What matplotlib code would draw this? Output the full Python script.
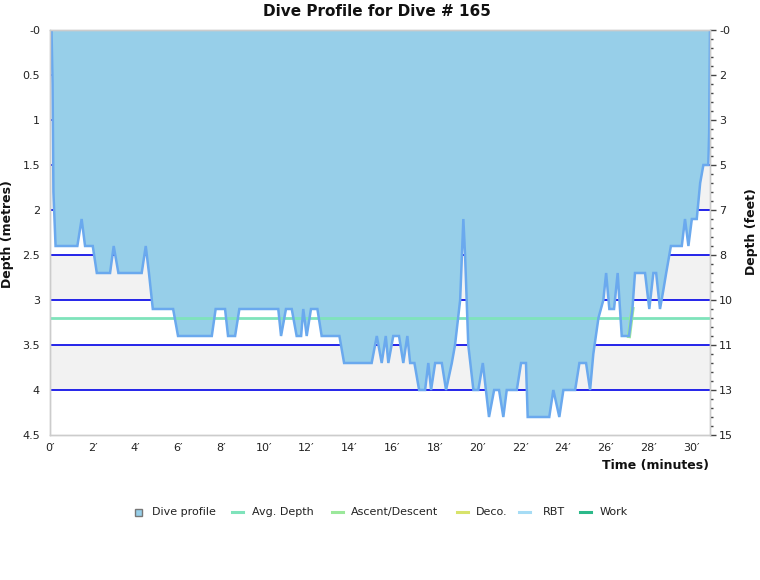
import matplotlib
matplotlib.use('Agg')
import matplotlib.pyplot as plt
from matplotlib.lines import Line2D
from matplotlib.patches import Rectangle
from matplotlib.ticker import MultipleLocator

title = "Dive Profile for Dive # 165"

time_min = [0.00, 0.07, 0.12, 0.16, 0.26, 1.28, 1.48, 1.64, 2.00, 2.19,
            2.81, 2.98, 3.20, 4.29, 4.48, 4.63, 4.81, 5.76, 5.99, 7.57,
            7.75, 8.19, 8.33, 8.66, 8.86, 10.68, 10.81, 11.04, 11.31, 11.54,
            11.75, 11.85, 12.01, 12.21, 12.51, 12.71, 13.54, 13.76, 15.05, 15.29,
            15.52, 15.71, 15.83, 16.06, 16.33, 16.53, 16.72, 16.85, 17.05, 17.27,
            17.55, 17.70, 17.83, 18.02, 18.33, 18.53, 18.80, 18.95, 19.19, 19.34,
            19.42, 19.57, 19.81, 20.04, 20.25, 20.54, 20.78, 21.01, 21.21, 21.37,
            21.84, 22.04, 22.27, 22.35, 23.36, 23.55, 23.83, 24.02, 24.57, 24.77,
            25.08, 25.27, 25.42, 25.66, 25.89, 26.02, 26.17, 26.39, 26.56, 26.75,
            27.09, 27.25, 27.37, 27.84, 28.04, 28.23, 28.36, 28.54, 28.69, 28.83,
            29.05, 29.56, 29.71, 29.87, 30.03, 30.26, 30.42, 30.57, 30.80, 30.84,
            30.88]
depth_m = [0.0, 0.0, 0.6, 1.8, 2.4, 2.4, 2.1, 2.4, 2.4, 2.7,
           2.7, 2.4, 2.7, 2.7, 2.4, 2.7, 3.1, 3.1, 3.4, 3.4,
           3.1, 3.1, 3.4, 3.4, 3.1, 3.1, 3.4, 3.1, 3.1, 3.4,
           3.4, 3.1, 3.4, 3.1, 3.1, 3.4, 3.4, 3.7, 3.7, 3.4,
           3.7, 3.4, 3.7, 3.4, 3.4, 3.7, 3.4, 3.7, 3.7, 4.0,
           4.0, 3.7, 4.0, 3.7, 3.7, 4.0, 3.7, 3.5, 3.0, 2.1,
           2.5, 3.5, 4.0, 4.0, 3.7, 4.3, 4.0, 4.0, 4.3, 4.0,
           4.0, 3.7, 3.7, 4.3, 4.3, 4.0, 4.3, 4.0, 4.0, 3.7,
           3.7, 4.0, 3.6, 3.2, 3.0, 2.7, 3.1, 3.1, 2.7, 3.4,
           3.4, 3.1, 2.7, 2.7, 3.1, 2.7, 2.7, 3.1, 2.9, 2.7,
           2.4, 2.4, 2.1, 2.4, 2.1, 2.1, 1.7, 1.5, 1.5, 1.15,
           0.0]

avg_depth_m = 3.2
ascent_time = [27.09, 27.25]
ascent_depth = [3.4, 3.1]

depth_ticks = [0, 0.5, 1, 1.5, 2, 2.5, 3, 3.5, 4, 4.5]
depth_tick_labels = ['-0', '0.5', '1', '1.5', '2', '2.5', '3', '3.5', '4', '4.5']
feet_tick_labels = ['-0', '2', '3', '5', '7', '8', '10', '11', '13', '15']
time_ticks = list(range(0, 31, 2))
time_tick_labels = [f"{t}\u2032" for t in time_ticks]

legend_labels = ["Dive profile", "Avg. Depth", "Ascent/Descent", "Deco.", "RBT", "Work"]
legend_colors = ["#97cfe9", "#7fe3bb", "#9be89b", "#d8e36b", "#a6dcf5", "#2cb98a"]

plt.rcParams['font.family'] = ['DejaVu Sans']
W, H = 760, 580
fig = plt.figure(figsize=(W / 100, H / 100), dpi=100)
ax = fig.add_axes([50 / W, 145 / H, 660 / W, 405 / H])
ax.set_xlim(0, time_min[-1])
ax.set_ylim(depth_ticks[-1], depth_ticks[0])

# alternating background bands
for i in range(len(depth_ticks) - 1):
    if i % 2 == 1:
        ax.axhspan(depth_ticks[i], depth_ticks[i + 1], color='#f2f2f2', lw=0, zorder=0)
for d in depth_ticks[1:-1]:
    ax.axhline(d, color='#0000e6', lw=1.2, zorder=1)

ax.fill_between(time_min, 0, depth_m, color='#97cfe9', lw=0, zorder=2)
ax.axhline(avg_depth_m, color='#7fe3bb', lw=2, zorder=3)
ax.plot(ascent_time, ascent_depth, color='#9be89b', lw=3, zorder=3.5)
ax.plot(time_min, depth_m, color='#6aa9ee', lw=1.8, zorder=4, solid_joinstyle='miter')

ax.set_yticks(depth_ticks)
ax.set_yticklabels(depth_tick_labels, fontsize=8, color='#222222')
ax.tick_params(axis='y', length=0, pad=7.2)
ax.set_xticks(time_ticks)
ax.set_xticklabels(time_tick_labels, fontsize=8, color='#222222')
ax.tick_params(axis='x', length=0, pad=6)
for s in ax.spines.values():
    s.set_color('#cccccc')
    s.set_linewidth(1)

ax2 = ax.twinx()
ax2.set_ylim(depth_ticks[-1], depth_ticks[0])
ax2.set_yticks(depth_ticks)
ax2.set_yticklabels(feet_tick_labels, fontsize=8, color='#222222')
ax2.yaxis.set_minor_locator(MultipleLocator(0.1))
ax2.tick_params(axis='y', which='major', length=4.5, width=1, color='#444444', pad=2)
ax2.tick_params(axis='y', which='minor', length=2.5, width=1, color='#444444')
for s in ax2.spines.values():
    s.set_color('#cccccc')
    s.set_linewidth(1)

fig.text(377 / W, 1 - 12 / H, title, ha='center', va='center', fontsize=11, fontweight='bold', color='#111111')
fig.text(8 / W, 1 - 234 / H, 'Depth (metres)', rotation=90, ha='center', va='center', fontsize=9, fontweight='bold', color='#111111')
fig.text(752 / W, 1 - 232 / H, 'Depth (feet)', rotation=90, ha='center', va='center', fontsize=9, fontweight='bold', color='#111111')
fig.text(709 / W, 1 - 466 / H, 'Time (minutes)', ha='right', va='center', fontsize=9, fontweight='bold', color='#111111')

# legend (manual layout)
ly = 1 - 512 / H
fig.add_artist(Rectangle(((138 - 3.5) / W, ly - 3.5 / H), 7 / W, 7 / H, transform=fig.transFigure,
                         facecolor=legend_colors[0], edgecolor='#777777', lw=1))
fig.text(152 / W, ly, legend_labels[0], ha='left', va='center', fontsize=8, color='#222222')
line_x = [232, 332, 457, 519, 580]
text_x = [252, 351, 476, 543, 600]
for lx, tx, lab, col in zip(line_x, text_x, legend_labels[1:], legend_colors[1:]):
    fig.add_artist(Line2D([lx / W, (lx + 11) / W], [ly, ly], transform=fig.transFigure, color=col, lw=2.2))
    fig.text(tx / W, ly, lab, ha='left', va='center', fontsize=8, color='#222222')

fig.savefig('out.png', dpi=100, facecolor='white')
